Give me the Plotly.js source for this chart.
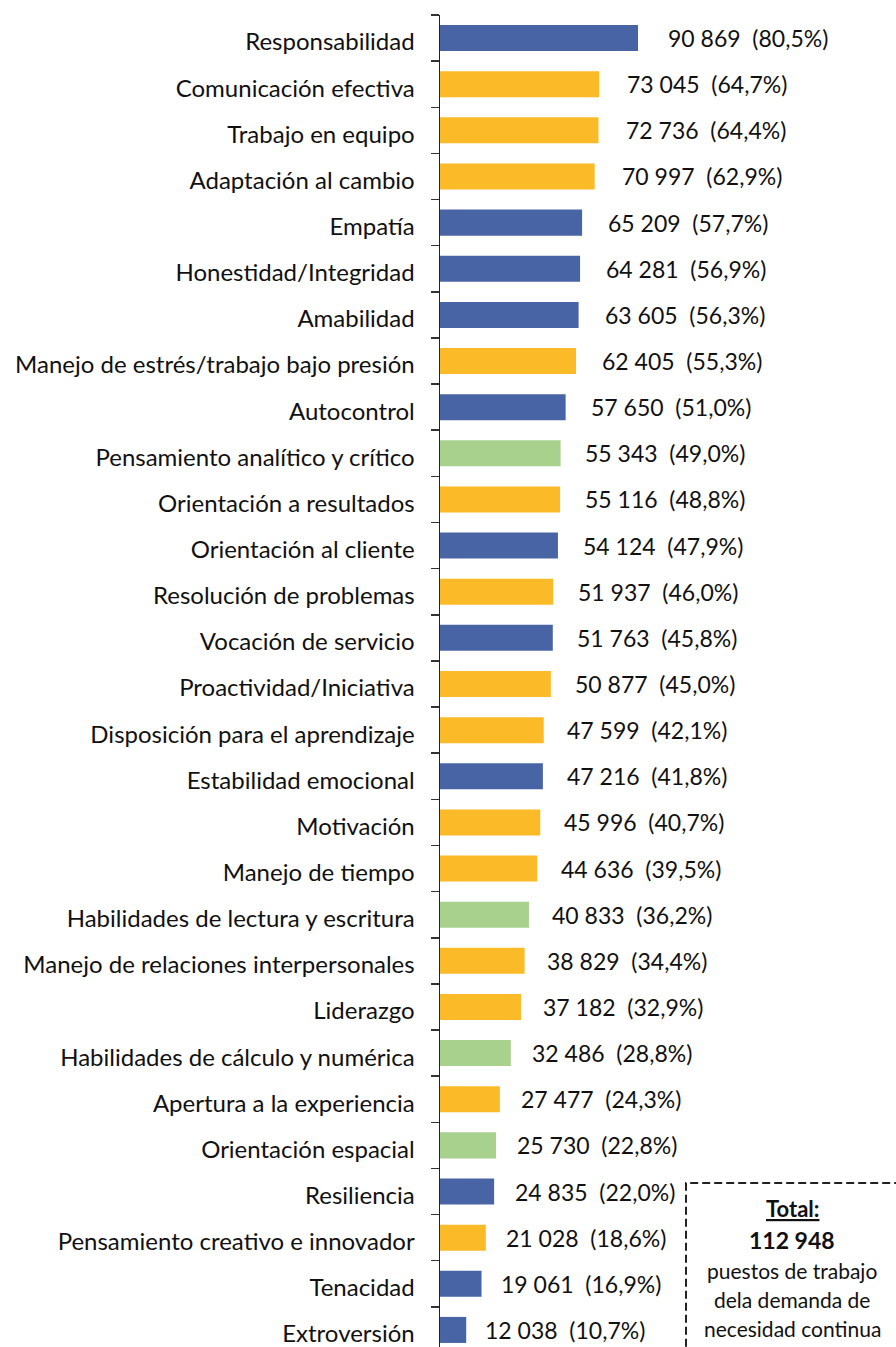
<!DOCTYPE html>
<html>
<head>
<meta charset="utf-8">
<script src="https://cdn.plot.ly/plotly-3.0.1.min.js"></script>
<style>html,body{margin:0;padding:0;background:#fff;}#chart{width:896px;height:1347px;}</style>
</head>
<body>
<div id="chart"></div>
<script>
// ---- data ----
const categories = [
  "Responsabilidad","Comunicación efectiva","Trabajo en equipo","Adaptación al cambio",
  "Empatía","Honestidad/Integridad","Amabilidad","Manejo de estrés/trabajo bajo presión",
  "Autocontrol","Pensamiento analítico y crítico","Orientación a resultados","Orientación al cliente",
  "Resolución de problemas","Vocación de servicio","Proactividad/Iniciativa","Disposición para el aprendizaje",
  "Estabilidad emocional","Motivación","Manejo de tiempo","Habilidades de lectura y escritura",
  "Manejo de relaciones interpersonales","Liderazgo","Habilidades de cálculo y numérica","Apertura a la experiencia",
  "Orientación espacial","Resiliencia","Pensamiento creativo e innovador","Tenacidad","Extroversión"
];
const values = [90869,73045,72736,70997,65209,64281,63605,62405,57650,55343,55116,54124,51937,51763,50877,47599,47216,45996,44636,40833,38829,37182,32486,27477,25730,24835,21028,19061,12038];
const percents = [80.5,64.7,64.4,62.9,57.7,56.9,56.3,55.3,51.0,49.0,48.8,47.9,46.0,45.8,45.0,42.1,41.8,40.7,39.5,36.2,34.4,32.9,28.8,24.3,22.8,22.0,18.6,16.9,10.7];
// group: B = blue, Y = yellow, G = green
const groups = ["B","Y","Y","Y","B","B","B","Y","B","G","Y","B","Y","B","Y","Y","B","Y","Y","G","Y","Y","G","Y","G","B","Y","B","B"];
const totalJobs = 112948;
const boxLines = ["puestos de trabajo","dela demanda de","necesidad continua"];

// ---- styles ----
const groupColors = {B:"#4864A5", Y:"#FBBA27", G:"#A9D18E"};
const FONT = "Lato, 'Open Sans', sans-serif";
const fmtNum = v => String(v).replace(/\B(?=(\d{3})+(?!\d))/g, " ");
const fmtPct = p => p.toFixed(1).replace(".", ",") + "%";

const trace = {
  type: "bar",
  orientation: "h",
  x: values,
  y: categories,
  marker: {color: groups.map(g => groupColors[g]), line: {width: 0}},
  hoverinfo: "skip"
};

const annotations = values.map((v, i) => ({
  xref: "x", yref: "y",
  x: v, y: categories[i],
  xanchor: "left", yanchor: "middle",
  xshift: 15 + 0.000142 * v,
  showarrow: false,
  text: fmtNum(v) + "  (" + fmtPct(percents[i]) + ")",
  font: {family: FONT, size: 23, color: "#111"}
}));

const pxY = Y => 1 - (Y - 15) / 1332;
const boxX = 0.772;
annotations.push({xref:"paper", yref:"paper", x:boxX, y:pxY(1208), xanchor:"center", yanchor:"middle", showarrow:false,
  text:"<b><u>Total:</u></b>", font:{family:FONT, size:22, color:"#111"}});
annotations.push({xref:"paper", yref:"paper", x:boxX, y:pxY(1240), xanchor:"center", yanchor:"middle", showarrow:false,
  text:"<b>" + fmtNum(totalJobs) + "</b>", font:{family:FONT, size:23, color:"#111"}});
boxLines.forEach((t, k) => annotations.push({xref:"paper", yref:"paper", x:boxX, y:pxY(1270 + k*29), xanchor:"center", yanchor:"middle", showarrow:false,
  text:t, font:{family:FONT, size:21, color:"#111"}}));

const layout = {
  width: 896, height: 1347,
  margin: {l: 440, r: 0, t: 15, b: 0, pad: 0},
  paper_bgcolor: "#fff", plot_bgcolor: "#fff",
  showlegend: false,
  bargap: 0.436,
  xaxis: {range: [0, 209270], visible: false, fixedrange: true},
  yaxis: {
    type: "category",
    range: [28.37, -0.5],
    showline: true, linecolor: "#222", linewidth: 1.5,
    ticks: "outside", tickson: "boundaries", ticklen: 8, tickcolor: "#333", tickwidth: 1.5,
    showgrid: false, zeroline: false,
    tickfont: {family: FONT, size: 24, color: "#111"},
    ticklabelstandoff: 19,
    ticklabelshift: -4,
    fixedrange: true
  },
  shapes: [{
    type: "rect", xref: "paper", yref: "paper",
    x0: (686 - 440) / 456, x1: 1.05, y0: -0.05, y1: pxY(1183),
    line: {color: "#222", width: 2, dash: "8px,4px"}, fillcolor: "rgba(0,0,0,0)"
  }],
  annotations: annotations
};

Plotly.newPlot("chart", [trace], layout, {displayModeBar: false, staticPlot: true});
</script>
</body>
</html>
